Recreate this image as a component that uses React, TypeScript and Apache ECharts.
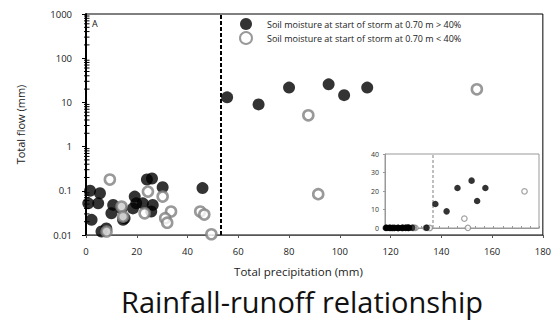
import React, { useEffect, useRef } from "react";
import * as echarts from "echarts";

// Total precipitation (mm), total flow (mm)
const wetPrecip = [1.6, 5.5, 0.9, 4.8, 2.2, 6.1, 8.0, 10.7, 10.0, 15.2, 14.0, 14.6, 19.2, 18.5, 19.8, 22.4, 24.0, 26.0, 25.7, 26.3, 30.2, 45.9, 55.6, 68.0, 80.0, 95.6, 101.7, 110.8];
const wetFlow = [0.1, 0.088, 0.052, 0.052, 0.022, 0.012, 0.014, 0.048, 0.031, 0.024, 0.04, 0.022, 0.074, 0.04, 0.052, 0.052, 0.18, 0.19, 0.034, 0.048, 0.12, 0.115, 13, 9, 21.6, 25.6, 14.6, 21.6];
const dryPrecip = [9.4, 8.1, 14.0, 14.6, 24.4, 23.1, 30.2, 33.5, 31.2, 32.0, 45.0, 46.6, 49.4, 87.6, 91.5, 154.0];
const dryFlow = [0.18, 0.012, 0.044, 0.026, 0.096, 0.031, 0.074, 0.034, 0.024, 0.019, 0.034, 0.029, 0.0104, 5.1, 0.084, 19.8];
const thresholdPrecip = 53;
const xTicks = { min: 0, max: 180, interval: 20 };
const yLog = { min: 0.01, max: 1000 };
const insetX = { min: 0, max: 170, interval: 10 };
const insetY = { min: 0, max: 40, interval: 10 };
const wetName = "Soil moisture at start of storm at 0.70 m > 40%";
const dryName = "Soil moisture at start of storm at 0.70 m < 40%";
const xName = "Total precipitation (mm)";
const yName = "Total flow (mm)";
const titleText = "Rainfall-runoff relationship";
const panelLabel = "A";

const FONT = "Open Sans";

export default function App() {
  const ref = useRef<HTMLDivElement>(null);
  useEffect(() => {
    document.body.style.margin = "0";
    const chart = echarts.init(ref.current!, null, { renderer: "svg" });
    const wet = wetPrecip.map((p, i) => [p, wetFlow[i]]);
    const dry = dryPrecip.map((p, i) => [p, dryFlow[i]]);
    const minorVals: number[][] = [];
    for (let k = -2; k <= 2; k++) {
      for (let m = 2; m <= 9; m++) minorVals.push([0, m * Math.pow(10, k)]);
    }
    const wetStyle = { color: "#000" };
    const dryStyle = { color: "#fff", borderColor: "#808080", borderWidth: 2.6 };
    chart.setOption({
      animation: false,
      textStyle: { fontFamily: FONT },
      title: {
        text: titleText,
        left: 116,
        top: 282,
        textStyle: { fontSize: 29, fontWeight: "normal", color: "#111", fontFamily: FONT },
      },
      legend: {
        orient: "vertical",
        left: 239,
        top: 18,
        padding: 0,
        itemWidth: 12,
        itemHeight: 12,
        itemGap: 1,
        data: [wetName, dryName],
        textStyle: { fontSize: 9, color: "#222", fontFamily: FONT, padding: [0, 0, 0, 10] },
      },
      graphic: [
        { type: "text", left: 92, top: 19, style: { text: panelLabel, fontSize: 9, fill: "#111", fontFamily: FONT } },
      ],
      grid: [
        { left: 86, top: 14, width: 460, height: 221, show: true, borderColor: "#000", borderWidth: 1 },
        { left: 385, top: 154, width: 154, height: 74, show: true, borderColor: "#999", borderWidth: 1, backgroundColor: "#fff", z: 5 },
      ],
      xAxis: [
        {
          gridIndex: 0, type: "value", min: xTicks.min, max: xTicks.max, interval: xTicks.interval,
          name: xName, nameLocation: "middle", nameGap: 30,
          nameTextStyle: { fontSize: 11.5, color: "#222", fontFamily: FONT, padding: [0, 32, 0, 0] },
          axisLine: { lineStyle: { color: "#555", width: 1 } },
          axisTick: { length: 3, lineStyle: { color: "#555" } },
          axisLabel: { fontSize: 9.5, color: "#222", margin: 11, fontFamily: FONT },
          splitLine: { show: false },
        },
        {
          gridIndex: 1, type: "value", min: insetX.min, max: insetX.max, interval: insetX.interval,
          axisLine: { lineStyle: { color: "#999" } },
          axisTick: { inside: true, length: 2, lineStyle: { color: "#999" } },
          axisLabel: { show: false },
          splitLine: { show: false },
          z: 6,
        },
      ],
      yAxis: [
        {
          gridIndex: 0, type: "log", logBase: 10, min: yLog.min, max: yLog.max,
          name: yName, nameLocation: "middle", nameGap: 60, nameRotate: 90,
          nameTextStyle: { fontSize: 11, color: "#222", fontFamily: FONT },
          axisLine: { lineStyle: { color: "#000", width: 2 } },
          axisTick: { length: 4, lineStyle: { color: "#000" } },
          axisLabel: { fontSize: 9.5, color: "#222", margin: 14, fontFamily: FONT, formatter: (v: number) => String(v) },
          splitLine: { show: false },
        },
        {
          gridIndex: 1, type: "value", min: insetY.min, max: insetY.max, interval: insetY.interval,
          axisLine: { show: true, lineStyle: { color: "#999" } },
          axisTick: { length: 2, lineStyle: { color: "#999" } },
          axisLabel: { fontSize: 7, color: "#333", margin: 6, fontFamily: FONT },
          splitLine: { show: false },
          z: 6,
        },
      ],
      series: [
        {
          type: "custom", xAxisIndex: 0, yAxisIndex: 0, silent: true, z: 10, clip: false,
          data: minorVals,
          renderItem: (params: any, api: any) => {
            const p = api.coord([api.value(0), api.value(1)]);
            return { type: "line", shape: { x1: p[0] - 2, y1: p[1], x2: p[0] + 3.5, y2: p[1] }, style: { stroke: "#000", lineWidth: 1 } };
          },
        },
        {
          name: wetName, type: "scatter", xAxisIndex: 0, yAxisIndex: 0, data: wet,
          symbol: "circle", symbolSize: 12, itemStyle: wetStyle, z: 2,
          markLine: {
            silent: true, symbol: "none", label: { show: false },
            lineStyle: { color: "#000", width: 2, type: [4, 2] },
            data: [{ xAxis: thresholdPrecip }],
          },
        },
        {
          name: dryName, type: "scatter", xAxisIndex: 0, yAxisIndex: 0, data: dry,
          symbol: "circle", symbolSize: 10, itemStyle: dryStyle, z: 3,
        },
        {
          type: "scatter", xAxisIndex: 1, yAxisIndex: 1, data: dry,
          symbol: "circle", symbolSize: 5.5, itemStyle: { color: "#fff", borderColor: "#888", borderWidth: 1.2 }, z: 7,
          markLine: {
            silent: true, symbol: "none", label: { show: false },
            lineStyle: { color: "#aaa", width: 1.5, type: [3, 2] },
            data: [{ xAxis: thresholdPrecip }],
          },
        },
        {
          type: "scatter", xAxisIndex: 1, yAxisIndex: 1, data: wet,
          symbol: "circle", symbolSize: 6.5, itemStyle: wetStyle, z: 8,
        },
      ],
    });
    return () => chart.dispose();
  }, []);
  return <div ref={ref} style={{ width: 554, height: 320 }} />;
}
